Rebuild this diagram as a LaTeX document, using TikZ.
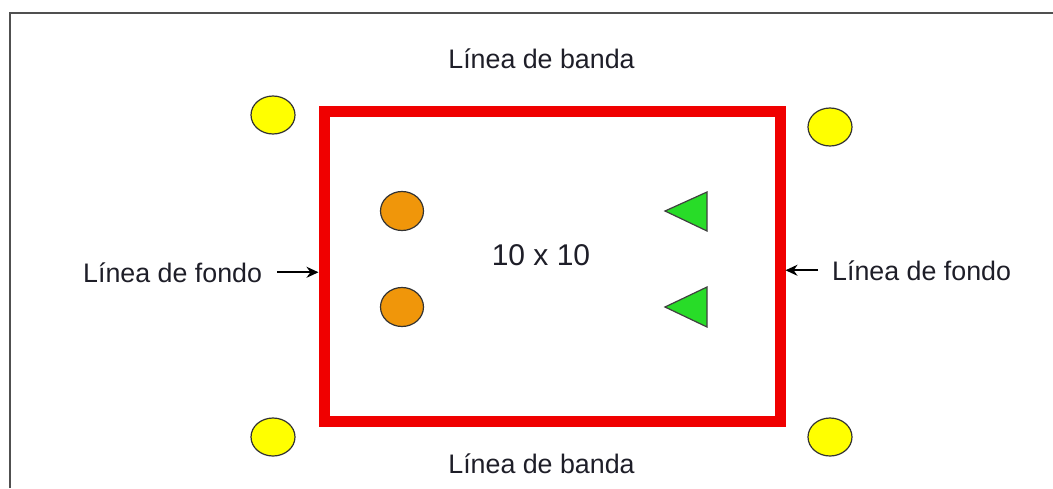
\documentclass[tikz,border=0pt]{standalone}
\usepackage{fontspec}
\setmainfont{Liberation Sans}
\usetikzlibrary{arrows.meta,shapes.geometric}
\definecolor{rojocampo}{RGB}{240,0,0}
\definecolor{amarillo}{RGB}{255,255,0}
\definecolor{naranja}{RGB}{240,150,10}
\definecolor{verde}{RGB}{40,220,40}
\definecolor{marco}{RGB}{80,80,80}
\definecolor{texto}{RGB}{30,30,40}
\tikzset{
  cono/.style={ellipse,draw=black!80,line width=1.2pt,fill=amarillo,minimum width=44pt,minimum height=38pt,inner sep=0pt},
  balon/.style={ellipse,draw=black!80,line width=1.2pt,fill=naranja,minimum width=43pt,minimum height=39pt,inner sep=0pt},
  jugador/.style={draw=black!75,line width=1.2pt,fill=verde,line join=miter},
  rotulo/.style={font=\fontsize{26.8}{30}\selectfont,text=texto,inner sep=0pt},
  flecha/.style={line width=2pt,-{Stealth[length=12pt,width=11pt]}}
}
\begin{document}
\begin{tikzpicture}[x=1pt,y=-1pt]
\useasboundingbox (0,0) rectangle (1053,488);
\fill[white] (0,0) rectangle (1053,488);
\draw[marco,line width=2pt] (10,488) -- (10,13) -- (1053,13); %marco

%campo
\node[draw=rojocampo,line width=11pt,minimum width=456pt,minimum height=310pt,inner sep=0pt] (campo) at (552,266) {};
\node[font=\fontsize{30}{34}\selectfont,text=texto,inner sep=0pt,anchor=base] (medida) at (541,265) {10 x 10};

%conos
\node[cono] (conoA) at (273,115) {};
\node[cono] (conoB) at (830,127) {};
\node[cono] (conoC) at (273,437) {};
\node[cono] (conoD) at (830,437) {};

%balones
\node[balon] (balonA) at (402,211) {};
\node[balon] (balonB) at (402,307) {};

%jugadores
\draw[jugador] (665,211) -- (707,192) -- (707,231) -- cycle;
\draw[jugador] (665,307) -- (707,287) -- (707,327) -- cycle;

%rotulos
\node[rotulo,anchor=base] (bandaarr) at (541.5,68) {Línea de banda};
\node[rotulo,anchor=base] (bandaab) at (541.5,473) {Línea de banda};
\node[rotulo,anchor=base west,inner xsep=0pt] (fondoizq) at (83,282) {Línea de fondo};
\node[rotulo,anchor=base west] (fondoder) at (832,280) {Línea de fondo};

%flechas
\draw[flecha,shorten <=15pt] (fondoizq.east) -- (fondoizq.east -| campo.west);
\draw[flecha,shorten <=14pt] (fondoder.west) -- (fondoder.west -| campo.east);
\end{tikzpicture}
\end{document}
